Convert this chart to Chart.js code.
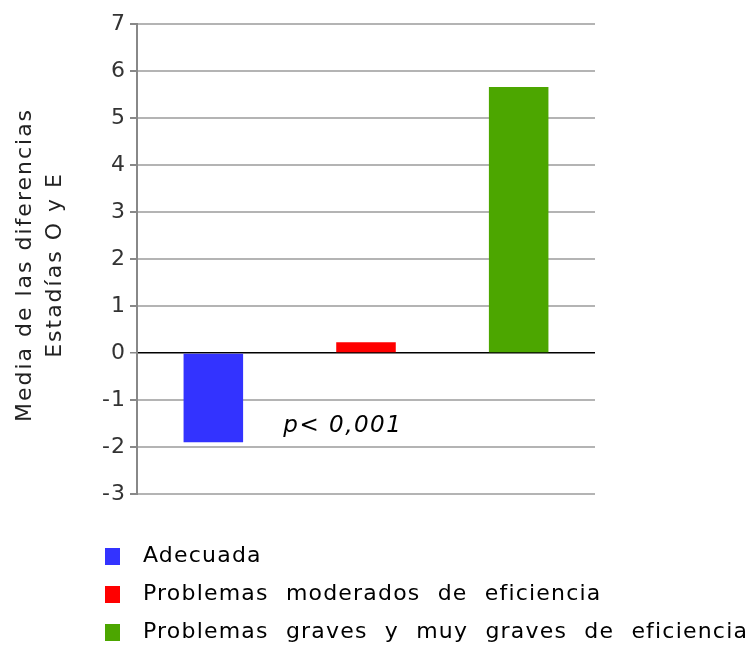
<!DOCTYPE html>
<html>
<head>
<meta charset="utf-8">
<script src="https://cdn.jsdelivr.net/npm/chart.js@4"></script>
<style>
  html, body { margin: 0; padding: 0; background: #fff; }
  #wrap { width: 753px; height: 648px; }
</style>
</head>
<body>
<div id="wrap"><canvas id="myChart" width="753" height="648"></canvas></div>
<script>
'use strict';

let categories = ['Adecuada', 'Problemas moderados de eficiencia', 'Problemas graves y muy graves de eficiencia'];
let meanDiff = [-1.9, 0.23, 5.66];
let barColors = ['#3333ff', '#ff0000', '#4ca600'];
let yTicks = [-3, -2, -1, 0, 1, 2, 3, 4, 5, 6, 7];
let axisTitle = ['Media de las diferencias', 'Estadías O y E'];
let note = 'p< 0,001';

// axis title, legend and p-value note drawn on the canvas
let extrasPlugin = {
    id: 'extras',
    beforeDraw: function (chart) {
        chart.ctx.letterSpacing = '1px';
    },
    afterDraw: function (chart) {
        let ctx = chart.ctx;
        let x = chart.scales.x;
        let y = chart.scales.y;
        let midY = (chart.chartArea.top + chart.chartArea.bottom) / 2 + 6;
        ctx.save();
        ctx.fillStyle = '#222';
        ctx.font = '22px "DejaVu Sans"';
        ctx.letterSpacing = '2px';
        ctx.textAlign = 'center';
        ctx.textBaseline = 'middle';
        ctx.translate(0, midY);
        ctx.rotate(-Math.PI / 2);
        ctx.fillText(axisTitle[0], 0, 25);
        ctx.fillText(axisTitle[1], 0, 55);
        ctx.restore();

        ctx.save();
        ctx.fillStyle = '#000';
        ctx.font = 'italic 23px "DejaVu Sans"';
        ctx.letterSpacing = '1.5px';
        ctx.textBaseline = 'middle';
        ctx.textAlign = 'left';
        ctx.fillText(note, x.getPixelForValue(0) + 70, y.getPixelForValue(-1.55));

        ctx.font = '22px "DejaVu Sans"';
        ctx.letterSpacing = '1.2px';
        ctx.wordSpacing = '9px';
        for (let i = 0; i < categories.length; i++) {
            let cy = 556 + i * 38;
            ctx.fillStyle = barColors[i];
            ctx.fillRect(105, cy - 8, 15, 17);
            ctx.fillStyle = '#000';
            ctx.fillText(categories[i], 143, cy);
        }
        ctx.restore();
    }
};

let ctx = document.getElementById('myChart').getContext('2d');
let chart = new Chart(ctx, {
    type: 'bar',
    data: {
        labels: categories,
        datasets: [{
            data: meanDiff,
            backgroundColor: barColors,
            borderWidth: 0,
            barPercentage: 1,
            categoryPercentage: 0.39
        }]
    },
    options: {
        responsive: false,
        animation: false,
        layout: { padding: { top: 24, right: 158, bottom: 154, left: 0 } },
        plugins: {
            legend: { display: false },
            tooltip: { enabled: false }
        },
        scales: {
            x: {
                display: false
            },
            y: {
                min: -3,
                max: 7,
                afterBuildTicks: function (axis) {
                    axis.ticks = yTicks.map(v => ({ value: v }));
                },
                afterFit: function (axis) {
                    axis.width = 137;
                },
                border: { display: true, color: '#888', width: 2 },
                grid: {
                    color: ctx => ctx.tick && ctx.tick.value === 0 ? '#000' : '#b4b4b4',
                    lineWidth: ctx => ctx.tick && ctx.tick.value === 0 ? 1.5 : 2,
                    tickLength: 7,
                    tickColor: '#888'
                },
                ticks: {
                    color: '#333',
                    font: { family: 'DejaVu Sans', size: 22 },
                    padding: 4
                }
            }
        }
    },
    plugins: [extrasPlugin]
});
</script>
</body>
</html>
